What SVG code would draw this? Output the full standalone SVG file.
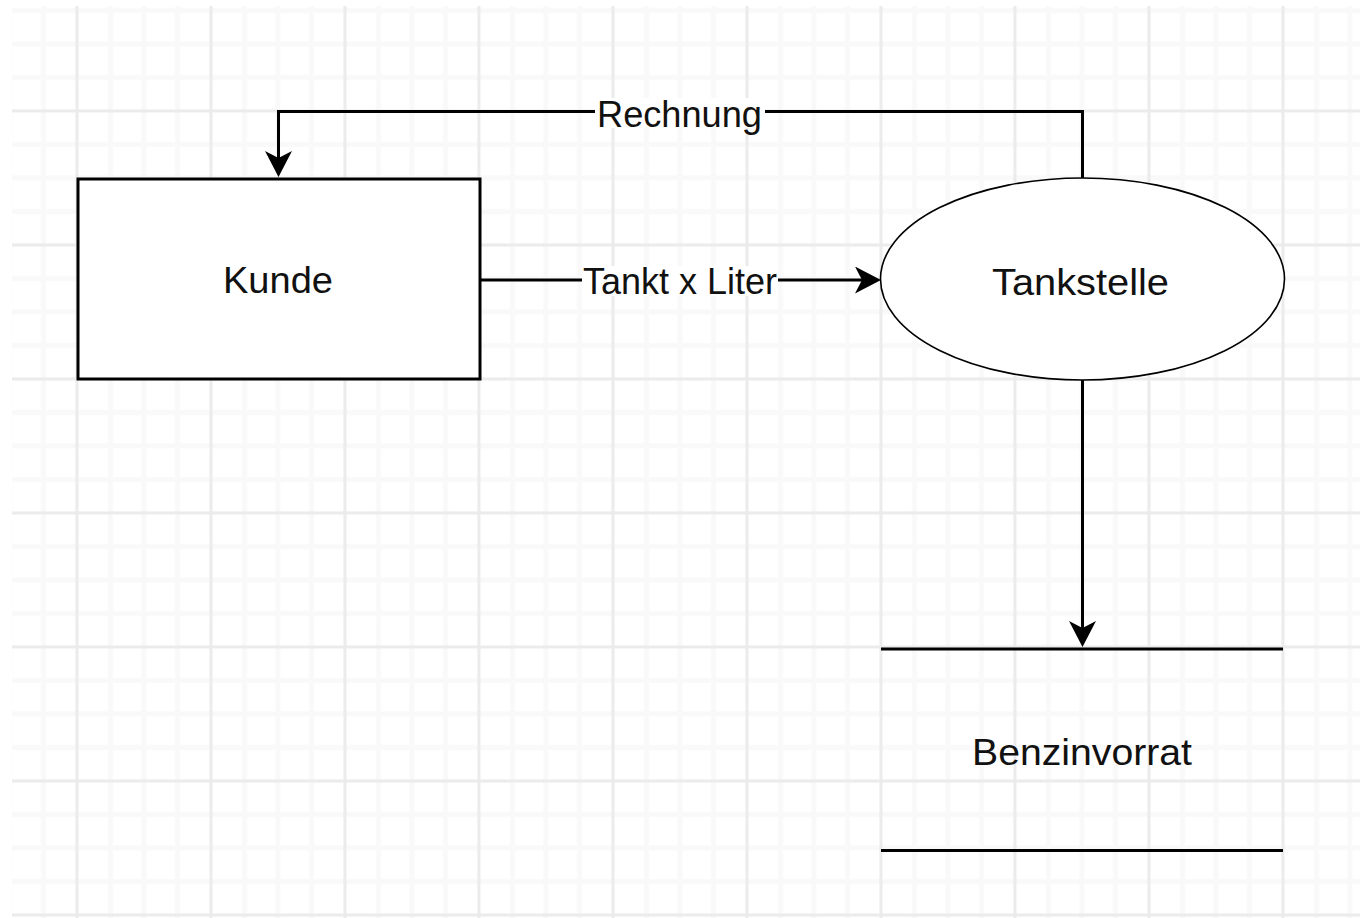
<svg xmlns="http://www.w3.org/2000/svg" width="1360" height="918" viewBox="0 0 1360 918">
  <style>
    .node { fill: #ffffff; stroke: #000000; }
    .edge { fill: none; stroke: #000000; stroke-width: 3; }
    .label { font-family: "Liberation Sans", Arial, sans-serif; font-size: 37px; fill: #111111; text-anchor: middle; }
    .minor { stroke: #f9f9f9; stroke-width: 5; }
    .major { stroke: #ebebeb; stroke-width: 3; }
  </style>
  <defs>
    <!-- background grid: one major line and three minor lines per 134px cell -->
    <pattern id="grid" patternUnits="userSpaceOnUse" x="60.25" y="94.25" width="134" height="134">
      <line class="minor" x1="50.25" y1="0" x2="50.25" y2="134"/>
      <line class="minor" x1="83.75" y1="0" x2="83.75" y2="134"/>
      <line class="minor" x1="117.25" y1="0" x2="117.25" y2="134"/>
      <line class="minor" x1="0" y1="50.25" x2="134" y2="50.25"/>
      <line class="minor" x1="0" y1="83.75" x2="134" y2="83.75"/>
      <line class="minor" x1="0" y1="117.25" x2="134" y2="117.25"/>
      <line class="major" x1="16.75" y1="0" x2="16.75" y2="134"/>
      <line class="major" x1="0" y1="16.75" x2="134" y2="16.75"/>
    </pattern>
    <!-- classic arrowhead; the path ends at the notch (refX), tip lies 19px beyond -->
    <marker id="arrow" markerUnits="userSpaceOnUse" viewBox="0 0 26 27" refX="7" refY="13.5" markerWidth="26" markerHeight="27" orient="auto">
      <path d="M0,0 L26,13.5 L0,27 L7,13.5 Z" fill="#000000"/>
    </marker>
  </defs>

  <rect x="0" y="0" width="1360" height="918" fill="#ffffff"/>
  <rect x="12" y="6" width="1348" height="912" fill="url(#grid)"/>

  <g id="connectors">
    <!-- Tankstelle -> Kunde (Rechnung) -->
    <path id="edge-rechnung" class="edge" d="M1082.5,178 V111.5 H278.5 V158" marker-end="url(#arrow)"/>
    <!-- Kunde -> Tankstelle (Tankt x Liter) -->
    <path id="edge-tankt" class="edge" d="M480,280 H862" marker-end="url(#arrow)"/>
    <!-- Tankstelle -> Benzinvorrat -->
    <path id="edge-vorrat" class="edge" d="M1082.5,380 V628" marker-end="url(#arrow)"/>

    <rect x="595" y="98" width="170" height="30" fill="#ffffff"/>
    <text class="label" x="679.5" y="127" textLength="165" lengthAdjust="spacingAndGlyphs">Rechnung</text>

    <rect x="582" y="266" width="196" height="30" fill="#ffffff"/>
    <text class="label" x="680" y="294" textLength="194" lengthAdjust="spacingAndGlyphs">Tankt x Liter</text>
  </g>

  <g id="kunde">
    <rect class="node" x="78" y="179" width="402" height="200" stroke-width="3"/>
    <text class="label" x="278" y="293" textLength="110" lengthAdjust="spacingAndGlyphs">Kunde</text>
  </g>

  <g id="tankstelle">
    <ellipse class="node" cx="1082.5" cy="279" rx="202" ry="101" stroke-width="1.6"/>
    <text class="label" x="1080.5" y="295" textLength="177" lengthAdjust="spacingAndGlyphs">Tankstelle</text>
  </g>

  <g id="benzinvorrat">
    <line x1="881" y1="649" x2="1283" y2="649" stroke="#000000" stroke-width="3"/>
    <line x1="881" y1="850.5" x2="1283" y2="850.5" stroke="#000000" stroke-width="3"/>
    <text class="label" x="1082" y="765" textLength="220" lengthAdjust="spacingAndGlyphs">Benzinvorrat</text>
  </g>
</svg>
